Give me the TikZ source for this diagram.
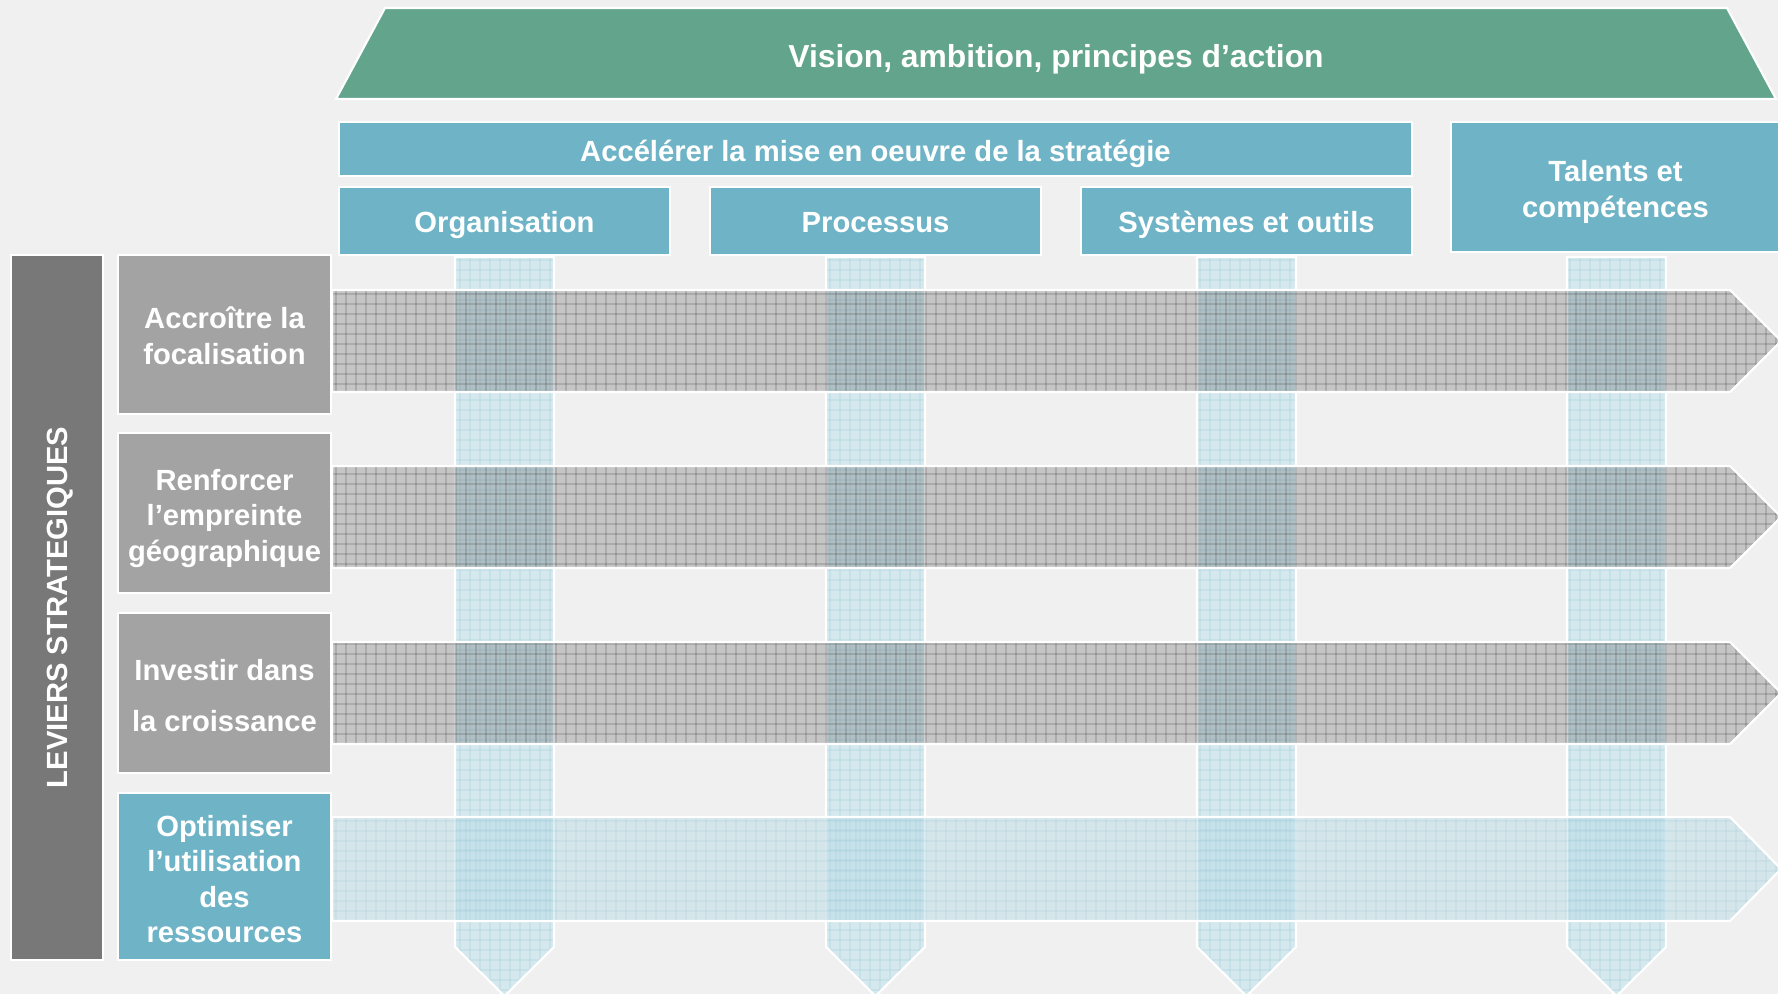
\documentclass[tikz,border=0pt]{standalone}
\usepackage{fontspec}
\setmainfont{Liberation Sans}

\definecolor{bgc}{RGB}{240,240,240}
\definecolor{visiongreen}{RGB}{98,164,140}
\definecolor{axisblue}{RGB}{110,180,198}
\definecolor{leviergray}{RGB}{120,120,120}
\definecolor{levergray}{RGB}{163,163,163}
\definecolor{columnblue}{RGB}{212,232,238}
\definecolor{bandgray}{RGB}{62,62,62}
\definecolor{bandblue}{RGB}{182,218,228}

\tikzset{
  edge white/.style={draw=white, line width=0.6pt},
  boxshape/.style={edge white, inner sep=0pt},
  boxtext/.style={text=white, align=center, inner sep=0pt,
    font=\fontsize{8.3}{10.1}\selectfont\bfseries},
  gridline/.style={line width=0.3pt, draw opacity=#1},
}

% outline of a pillar centred at x=#1
\def\pillar#1{(#1-49.5,257) -- (#1+49.5,257) -- (#1+49.5,947) -- (#1,996)
  -- (#1-49.5,947) -- cycle}
% outline of a horizontal band from y=#1 to y=#2
\def\band#1#2{(332,#1) -- (1730,#1) -- (1781,{(#1+#2)/2}) -- (1730,#2)
  -- (332,#2) -- cycle}

\begin{document}
\begin{tikzpicture}[x=0.01cm,y=-0.01cm]
  % canvas
  \fill[bgc] (0,0) rectangle (1778,994);
  \path[use as bounding box] (0,0) rectangle (1778,994);

  % vertical pillars with chevron ends
  \fill[columnblue] \pillar{504.5} \pillar{875.5} \pillar{1246.5} \pillar{1616.5};
  \begin{scope}
    \clip \pillar{504.5} \pillar{875.5} \pillar{1246.5} \pillar{1616.5};
    \foreach \gx in {450,460,...,1670}
      \draw[gridline=0.12, axisblue] (\gx,250) -- (\gx,1000);
    \foreach \gy in {260,270,...,1000}
      \draw[gridline=0.12, axisblue] (440,\gy) -- (1680,\gy);
  \end{scope}
  \draw[edge white] \pillar{504.5} \pillar{875.5} \pillar{1246.5} \pillar{1616.5};

  % horizontal lever bands
  \fill[bandgray, fill opacity=0.24] \band{290}{392} \band{466}{568} \band{642}{744};
  \fill[bandblue, fill opacity=0.45] \band{817}{921};
  \begin{scope}
    \clip \band{290}{392} \band{466}{568} \band{642}{744};
    \foreach \gx in {336,346,...,1786}
      \draw[gridline=0.13, black] (\gx,280) -- (\gx,760);
    \foreach \gy in {294,304,...,744}
      \draw[gridline=0.13, black] (320,\gy) -- (1790,\gy);
  \end{scope}
  \begin{scope}
    \clip \band{817}{921};
    \foreach \gx in {336,346,...,1786}
      \draw[gridline=0.1, axisblue] (\gx,810) -- (\gx,930);
    \foreach \gy in {821,831,...,921}
      \draw[gridline=0.1, axisblue] (320,\gy) -- (1790,\gy);
  \end{scope}
  \draw[edge white] \band{290}{392} \band{466}{568} \band{642}{744} \band{817}{921};

  % top banner
  \path[edge white, fill=visiongreen] (336,99) -- (385,8) -- (1727,8)
    -- (1776,99) -- cycle;
  \node[boxtext, font=\fontsize{9.05}{11}\selectfont\bfseries] (vision)
    at (1056,59.5) {Vision, ambition, principes d’action};

  % strategy headers
  \node[boxshape, fill=axisblue, minimum width=10.73cm, minimum height=0.54cm]
    (accel) at (875.5,149) {};
  \node[boxtext] (accel text) at (875.5,154) {Accélérer la mise en oeuvre de la stratégie};
  \node[boxshape, fill=axisblue, minimum width=3.31cm, minimum height=0.68cm]
    (orga) at (504.5,221) {};
  \node[boxtext] (orga text) at (504.5,225) {Organisation};
  \node[boxshape, fill=axisblue, minimum width=3.31cm, minimum height=0.68cm]
    (proc) at (875.5,221) {};
  \node[boxtext] (proc text) at (875.5,223) {Processus};
  \node[boxshape, fill=axisblue, minimum width=3.31cm, minimum height=0.68cm]
    (sys) at (1246.5,221) {};
  \node[boxtext] (sys text) at (1246.5,224.5) {Systèmes et outils};
  \node[boxshape, fill=axisblue, minimum width=3.29cm, minimum height=1.30cm]
    (talents) at (1615.5,187) {};
  \node[boxtext] (talents text) at (1615.5,192) {Talents et\\compétences};

  % strategic levers
  \node[boxshape, fill=leviergray, minimum width=0.92cm, minimum height=7.05cm]
    (leviers) at (57,607.5) {};
  \node[boxtext, rotate=90] (leviers text) at (60.5,607.5) {LEVIERS STRATEGIQUES};

  \node[boxshape, fill=levergray, minimum width=2.13cm, minimum height=1.59cm]
    (focus) at (224.5,334.5) {};
  \node[boxtext] (focus text) at (224.5,336) {Accroître la\\focalisation};
  \node[boxshape, fill=levergray, minimum width=2.13cm, minimum height=1.60cm]
    (geo) at (224.5,513) {};
  \node[boxtext] (geo text) at (224.5,518.5) {Renforcer\\l’empreinte\\géographique};
  \node[boxshape, fill=levergray, minimum width=2.13cm, minimum height=1.60cm]
    (growth) at (224.5,693) {};
  \node[boxtext, font=\fontsize{8.3}{14.5}\selectfont\bfseries]
    (growth text) at (224.5,695.5) {Investir dans\\la croissance};
  \node[boxshape, fill=axisblue, minimum width=2.13cm, minimum height=1.67cm]
    (resources) at (224.5,876.5) {};
  \node[boxtext] (resources text) at (224.5,879) {Optimiser\\l’utilisation\\des\\ressources};
\end{tikzpicture}
\end{document}
